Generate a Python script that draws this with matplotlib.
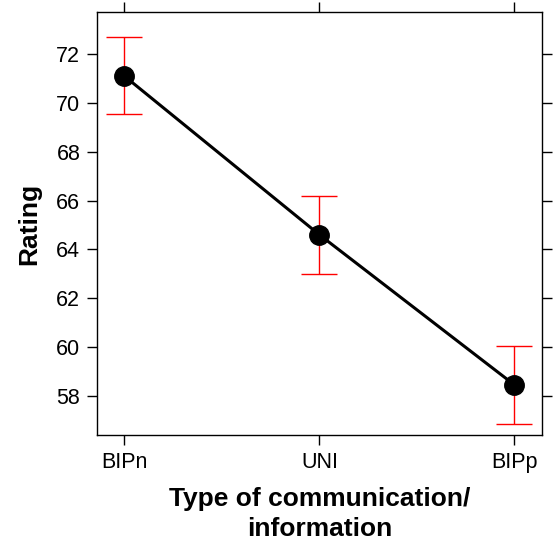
import matplotlib.pyplot as plt

plt.rcParams['font.family'] = ['Liberation Sans', 'DejaVu Sans']

groups = ['BIPn', 'UNI', 'BIPp']
rating = [71.1, 64.6, 58.45]
lower = [69.55, 63.0, 56.85]
upper = [72.7, 66.2, 60.05]

xx = range(1, len(groups) + 1)
err_lo = [r - l for r, l in zip(rating, lower)]
err_hi = [u - r for r, u in zip(rating, upper)]

fig = plt.figure(figsize=(5.54, 5.42), dpi=100)
ax = fig.add_axes([0.175, 0.1974, 0.803, 0.7805])

ax.errorbar(xx, rating, yerr=[err_lo, err_hi], fmt='none', ecolor='red',
            elinewidth=1, capsize=13, capthick=1, zorder=1)
ax.plot(xx, rating, 'k-', lw=2.2, zorder=2)
ax.plot(xx, rating, 'ko', ms=14, zorder=3)

ax.set_xlim(0.86, 3.14)
ax.set_ylim(56.4, 73.72)
ax.set_xticks(list(xx))
ax.set_xticklabels(groups)
ax.set_yticks(range(58, 73, 2))
ax.tick_params(direction='out', length=7, width=1, labelsize=15.5,
               top=True, right=True, labeltop=False, labelright=False, pad=5)
for s in ax.spines.values():
    s.set_linewidth(1)

ax.set_xlabel('Type of communication/\ninformation', fontsize=19, fontweight='bold',
              labelpad=10, linespacing=1.35)
ax.set_ylabel('Rating', fontsize=19, fontweight='bold', labelpad=11)

fig.savefig('out.png')
